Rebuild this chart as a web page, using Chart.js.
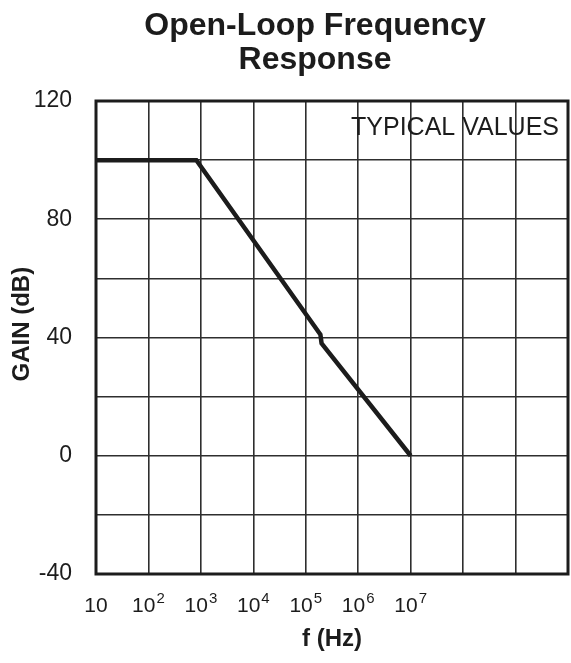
<!DOCTYPE html>
<html>
<head>
<meta charset="utf-8">
<script src="https://cdn.jsdelivr.net/npm/chart.js@4.4.0/dist/chart.umd.min.js"></script>
<style>
  body { margin: 0; background: #fff; }
  .wrap { width: 571px; height: 663px; }
</style>
</head>
<body>
<div class="wrap"><canvas id="gainChart"></canvas></div>
<script>
// open-loop gain
const freqHz = [10, 820, 1.9e5, 2.0e5, 1e7];
const gainDb = [100, 100, 41, 38, 0];

// decade grid on the x axis, labels (base, exponent) only up to 10^7
const decadeTicks = [10, 1e2, 1e3, 1e4, 1e5, 1e6, 1e7, 1e8, 1e9, 1e10];
const decadeBase = ['10', '10', '10', '10', '10', '10', '10', '', '', ''];
const decadeExp = ['', '2', '3', '4', '5', '6', '7', '', '', ''];

// gain axis: grid every 20 dB, labels every 40
const gainLabelled = [120, 80, 40, 0, -40];

const titleLines = ['Open-Loop Frequency', 'Response'];

const ink = '#1c1c1c';
const font = 'Arial, "Liberation Sans", sans-serif';

const frameAndText = {
  id: 'frameAndText',
  afterDatasetsDraw(chart) {
    const { ctx, chartArea: a } = chart;
    const xs = chart.scales.x;
    ctx.save();
    ctx.strokeStyle = ink;
    ctx.lineWidth = 3;
    ctx.strokeRect(a.left, a.top, a.right - a.left, a.bottom - a.top);

    ctx.fillStyle = ink;
    ctx.font = '25px ' + font;
    ctx.textAlign = 'right';
    ctx.textBaseline = 'middle';
    ctx.fillText('TYPICAL VALUES', a.right - 9, a.top + 27);

    // title
    ctx.font = 'bold 32px ' + font;
    ctx.textAlign = 'center';
    ctx.textBaseline = 'alphabetic';
    titleLines.forEach((t, i) => ctx.fillText(t, 315, 35 + i * 34));

    // decade labels with raised exponents
    ctx.textAlign = 'left';
    decadeTicks.forEach((v, i) => {
      if (!decadeBase[i]) return;
      const gx = xs.getPixelForValue(v);
      ctx.font = '21px ' + font;
      const wb = ctx.measureText(decadeBase[i]).width;
      ctx.font = '15px ' + font;
      const we = decadeExp[i] ? ctx.measureText(decadeExp[i]).width + 1 : 0;
      const x0 = gx - (wb + we) / 2;
      ctx.font = '21px ' + font;
      ctx.fillText(decadeBase[i], x0, a.bottom + 38);
      if (decadeExp[i]) {
        ctx.font = '15px ' + font;
        ctx.fillText(decadeExp[i], x0 + wb + 1, a.bottom + 29);
      }
    });
    ctx.restore();
  }
};

const ctx = document.getElementById('gainChart').getContext('2d');
const gainChart = new Chart(ctx, {
  type: 'line',
  data: {
    datasets: [{
      data: freqHz.map((f, i) => ({ x: f, y: gainDb[i] })),
      borderColor: ink,
      borderWidth: 4.5,
      pointRadius: 0,
      fill: false,
      tension: 0
    }]
  },
  plugins: [frameAndText],
  options: {
    responsive: true,
    maintainAspectRatio: false,
    animation: false,
    layout: { padding: { left: 8, right: 2, top: 101, bottom: 9 } },
    plugins: {
      legend: { display: false },
      tooltip: { enabled: false },
      title: { display: false }
    },
    scales: {
      x: {
        type: 'logarithmic',
        min: 10,
        max: 1e10,
        afterBuildTicks: (scale) => {
          scale.ticks = decadeTicks.map(v => ({ value: v }));
        },
        afterFit: (scale) => { scale.height = 80; },
        ticks: {
          autoSkip: false,
          maxRotation: 0,
          callback: () => ''
        },
        grid: { color: '#2e2e2e', lineWidth: 1.6, drawTicks: false },
        border: { display: false },
        title: {
          display: true,
          text: 'f (Hz)',
          color: ink,
          font: { family: font, size: 24, weight: 'bold' },
          padding: { top: 0, bottom: 0 }
        }
      },
      y: {
        min: -40,
        max: 120,
        afterFit: (scale) => { scale.width = 88; },
        ticks: {
          stepSize: 20,
          padding: 24,
          color: ink,
          font: { family: font, size: 23 },
          callback: (v) => gainLabelled.includes(v) ? String(v) : ''
        },
        grid: { color: '#2e2e2e', lineWidth: 1.6, drawTicks: false },
        border: { display: false },
        title: {
          display: true,
          text: '    GAIN (dB)',
          color: ink,
          font: { family: font, size: 24, weight: 'bold' },
          padding: { top: 0, bottom: 0 }
        }
      }
    }
  }
});
</script>
</body>
</html>
